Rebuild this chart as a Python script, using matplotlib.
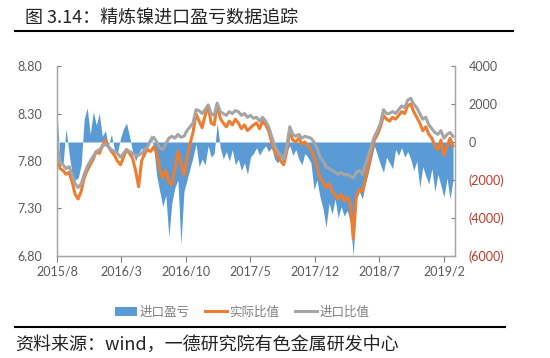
import pandas as pd
import matplotlib.pyplot as plt
from matplotlib.patches import Patch
from matplotlib.lines import Line2D
from matplotlib.ticker import FuncFormatter

plt.rcParams['font.family'] = ['Noto Sans CJK SC', 'DejaVu Sans']

dates = pd.date_range('2015-08-01', periods=132, freq='10D')

actual_ratio = [
    7.92, 7.72, 7.70, 7.66, 7.68, 7.58, 7.45, 7.40, 7.48, 7.62,
    7.70, 7.76, 7.82, 7.90, 7.88, 7.96, 8.02, 7.95, 7.90, 7.86,
    7.80, 7.76, 7.84, 7.92, 7.88, 7.83, 7.70, 7.53, 7.80, 7.88,
    7.92, 7.90, 7.95, 7.88, 7.72, 7.62, 7.70, 7.58, 7.55, 7.72,
    7.90, 7.78, 7.65, 7.82, 7.98, 8.10, 8.30, 8.22, 8.15, 8.28,
    8.38, 8.20, 8.18, 8.40, 8.25, 8.20, 8.16, 8.22, 8.18, 8.24,
    8.20, 8.14, 8.18, 8.12, 8.15, 8.18, 8.20, 8.14, 8.22, 8.18,
    8.12, 8.00, 7.90, 7.85, 7.80, 7.76, 7.90, 8.12, 8.02, 8.00,
    8.04, 7.98, 8.00, 7.96, 7.92, 7.85, 7.75, 7.62, 7.58, 7.52,
    7.56, 7.48, 7.44, 7.40, 7.45, 7.38, 7.42, 7.36, 6.98, 7.42,
    7.50, 7.48, 7.60, 7.75, 7.90, 8.02, 8.08, 8.16, 8.28, 8.24,
    8.22, 8.26, 8.24, 8.28, 8.32, 8.30, 8.38, 8.40, 8.32, 8.26,
    8.20, 8.12, 8.16, 8.08, 8.04, 7.96, 7.92, 8.02, 7.86, 7.95,
    8.04, 7.96,
]

import_ratio = [
    8.00, 7.78, 7.76, 7.72, 7.74, 7.66, 7.56, 7.52, 7.56, 7.66,
    7.74, 7.80, 7.85, 7.90, 7.92, 7.95, 7.98, 7.95, 7.92, 7.90,
    7.88, 7.84, 7.88, 7.92, 7.90, 7.88, 7.86, 7.86, 7.88, 7.92,
    7.95, 8.02, 8.05, 8.00, 7.94, 7.92, 7.98, 8.04, 8.06, 8.04,
    8.08, 8.05, 8.06, 8.12, 8.16, 8.20, 8.34, 8.33, 8.30, 8.34,
    8.39, 8.30, 8.28, 8.41, 8.32, 8.30, 8.28, 8.32, 8.30, 8.33,
    8.32, 8.28, 8.30, 8.26, 8.28, 8.25, 8.26, 8.22, 8.26, 8.22,
    8.16, 8.06, 7.96, 7.90, 7.86, 7.82, 7.95, 8.16, 8.08, 8.06,
    8.08, 8.04, 8.06, 8.05, 8.04, 8.00, 7.94, 7.84, 7.80, 7.74,
    7.72, 7.70, 7.68, 7.66, 7.68, 7.65, 7.66, 7.64, 7.62, 7.68,
    7.70, 7.66, 7.76, 7.86, 7.96, 8.06, 8.12, 8.20, 8.34, 8.30,
    8.30, 8.32, 8.30, 8.34, 8.38, 8.36, 8.44, 8.46, 8.40, 8.36,
    8.30, 8.24, 8.26, 8.18, 8.14, 8.10, 8.08, 8.12, 8.04, 8.08,
    8.10, 8.06,
]

import_pl = [
    1500, -900, -1200, 700, -600, -1700, -2000, -1900, -1200, 1200,
    1800, 400, 1600, 900, 1500, 300, 600, -200, 400, -400,
    -600, 200, 700, 1000, 300, -500, -1000, -600, -300, -800,
    -200, 400, -300, -1800, -2600, -3400, -2800, -5000, -3200, -2400,
    -2000, -5400, -2600, -2000, -1400, -800, -100, -1300, -900, -1200,
    -200, -800, -600, 1000, -300, -900, -500, -1000, -400, -1200,
    -900, -1500, -1100, -1700, -800, -600, -300, -700, -400, -200,
    -500, -300, -900, -1100, -800, -1200, -500, -200, -700, -400,
    -900, -1200, -600, -800, -1100, -2500, -2000, -2900, -3500, -4500,
    -3200, -3800, -3000, -4000, -3400, -3900, -3600, -4200, -6000, -3000,
    -2600, -3000, -2200, -1600, -900, -200, -700, -1200, -1600, -800,
    -1100, -1400, -400, -700, -300, -800, -500, -900, -1500, -1000,
    -2400, -1300, -1800, -2200, -1400, -2600, -1700, -2300, -2900, -1900,
    -3000, -2000,
]

tick_dates = pd.to_datetime(['2015-08-01', '2016-03-01', '2016-10-01', '2017-05-01',
                             '2017-12-01', '2018-07-01', '2019-02-01'])
tick_labels = ['2015/8', '2016/3', '2016/10', '2017/5', '2017/12', '2018/7', '2019/2']
left_ticks = [6.80, 7.30, 7.80, 8.30, 8.80]
right_ticks = [-6000, -4000, -2000, 0, 2000, 4000]

BLUE = '#5B9BD5'
ORANGE = '#ED7D31'
GREY = '#A5A5A5'
AXIS = '#A6A6A6'
TXT = '#595959'

fig = plt.figure(figsize=(5.5, 3.58), dpi=100)
ax = fig.add_axes([0.1036, 0.285, 0.7234, 0.5306])
axr = ax.twinx()
ax.set_zorder(2)
axr.set_zorder(1)
ax.patch.set_visible(False)

axr.fill_between(dates, 0, import_pl, color=BLUE, lw=0)
ax.plot(dates, actual_ratio, color=ORANGE, lw=2.2, solid_joinstyle='round')
ax.plot(dates, import_ratio, color=GREY, lw=2.2, solid_joinstyle='round')

ax.set_ylim(6.8, 8.8)
axr.set_ylim(-6000, 4000)
ax.set_xlim(pd.Timestamp('2015-08-01'), pd.Timestamp('2019-03-09'))

ax.set_yticks(left_ticks)
ax.set_yticklabels([f'{v:.2f}' for v in left_ticks])
axr.set_yticks(right_ticks)
axr.yaxis.set_major_formatter(FuncFormatter(lambda v, p: f'({abs(v):.0f})' if v < 0 else f'{v:.0f}'))
ax.set_xticks(tick_dates)
ax.set_xticklabels(tick_labels)

for a in (ax, axr):
    a.spines['top'].set_visible(False)
    for s in ('left', 'right', 'bottom'):
        a.spines[s].set_color(AXIS)
        a.spines[s].set_linewidth(0.9)

ax.tick_params(axis='y', direction='in', length=3, color='#7F7F7F', pad=11,
               labelsize=9, labelcolor=TXT)
axr.tick_params(axis='y', direction='in', length=3, color='#7F7F7F', pad=10,
                labelsize=9, labelcolor=TXT)
ax.tick_params(axis='x', direction='out', length=4, color='#7F7F7F', pad=3,
               labelsize=9, labelcolor=TXT)
for lab in ax.get_yticklabels() + ax.get_xticklabels():
    lab.set_family(['Lato', 'DejaVu Sans'])
fig.canvas.draw()
for lab in axr.get_yticklabels():
    lab.set_family(['Lato', 'DejaVu Sans'])
    if lab.get_text().startswith('('):
        lab.set_color('#C0392B')

handles = [Patch(facecolor=BLUE, edgecolor='none'),
           Line2D([], [], color=ORANGE, lw=2.2),
           Line2D([], [], color=GREY, lw=2.2)]
fig.legend(handles, ['进口盈亏', '实际比值', '进口比值'], loc='center',
           bbox_to_anchor=(0.44, 0.128), ncol=3, frameon=False, fontsize=9,
           labelcolor='#7F7F7F', handlelength=1.8, handletextpad=0.2,
           columnspacing=1.2)

fig.text(0.045, 0.95, '图 3.14：精炼镍进口盈亏数据追踪', fontsize=13,
         color='#222222', va='center', ha='left')
fig.add_artist(Line2D([0.027, 0.933], [0.913, 0.913], color='black', lw=1.5))
fig.add_artist(Line2D([0.027, 0.918], [0.087, 0.087], color='black', lw=1.5))
fig.text(0.027, 0.036, '资料来源：wind，一德研究院有色金属研发中心', fontsize=13,
         color='#222222', va='center', ha='left')

fig.savefig('out.png', dpi=100, facecolor='white')
